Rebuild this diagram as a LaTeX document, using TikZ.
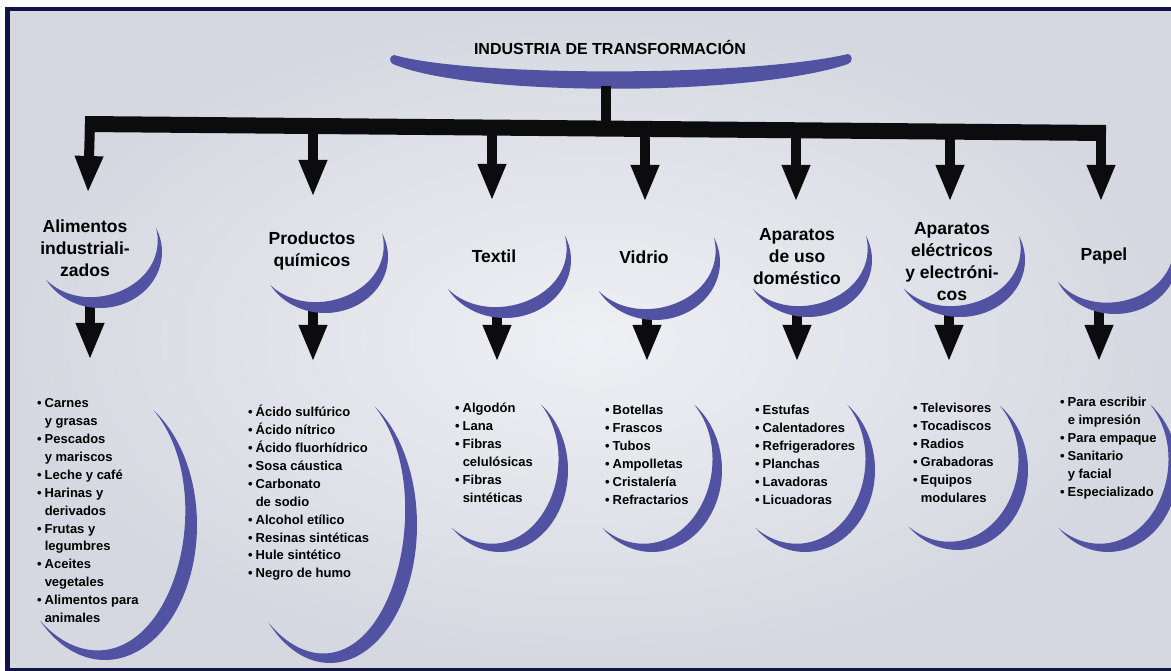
\documentclass[tikz,border=0pt]{standalone}
\usepackage{fontspec}
\setmainfont{Liberation Sans}
\usetikzlibrary{arrows.meta}
\definecolor{moonc}{RGB}{82,82,162}
\definecolor{framec}{RGB}{18,20,70}
\definecolor{bgin}{RGB}{239,240,244}
\definecolor{bgout}{RGB}{214,216,225}
\definecolor{inkc}{RGB}{12,12,14}
\newcommand\crescentshape[7]{% cx cy rx ry a1 a2 T
  \fill[moonc] plot[domain=#5:#6,samples=60,smooth,variable=\t] ({#1+#3*cos(\t)},{#2+#4*sin(\t)})
   -- plot[domain=#6:#5,samples=60,smooth,variable=\t]
   ({#1+(#3-#7*sin(((\t-(#5))/((#6)-(#5)))*180))*cos(\t)},{#2+(#4-#7*sin(((\t-(#5))/((#6)-(#5)))*180))*sin(\t)}) -- cycle;}
\newcommand\itembul{\textbullet\hspace{3pt}}
\newcommand\itemind{\phantom{\textbullet\hspace{3pt}}}
\begin{document}
\begin{tikzpicture}[x=1pt,y=-1pt,
  titlelabel/.style={inner sep=0pt,font=\fontsize{16}{19}\selectfont\bfseries},
  catlabel/.style={align=center,inner sep=0pt,font=\fontsize{17.5}{22}\selectfont\bfseries},
  listlabel/.style={align=left,inner sep=0pt,anchor=north west,font=\fontsize{13}{17.9}\selectfont\bfseries},
  barline/.style={draw=inkc,line width=16pt},
  trunkline/.style={draw=inkc,line width=10pt},
  bigarrow/.style={draw=inkc,fill=inkc,line width=10pt,-{Triangle[width=26pt,length=37pt]}}]
\useasboundingbox (0,0) rectangle (1171,671);
% frame and background
\fill[white] (0,0) rectangle (1171,671);
\fill[framec] (5,7) rectangle (1171,671);
\shade[inner color=bgin,outer color=bgout] (10,12) rectangle (1171,667);

% title
\node[titlelabel] (title) at (610,47) {INDUSTRIA DE TRANSFORMACIÓN};
\fill[moonc] (393,64) .. controls (470,97) and (750,97) .. (848,64)
  .. controls (853,62) and (853,55) .. (848,54)
  .. controls (750,77) and (470,77) .. (394,55)
  .. controls (389,56) and (389,62) .. (393,64) -- cycle;

% bar and trunk
\coordinate (barL) at (85,124);
\coordinate (barR) at (1106,133);
\coordinate (trunkTop) at (606,86);
\coordinate (trunkBot) at (606,128.6);
\draw[barline] (barL) -- (barR);
\draw[trunkline] (trunkTop) -- (trunkBot);

% top arrows
\coordinate (b1) at (90,124);    \coordinate (t1) at (88,193);
\coordinate (b2) at (313,126);   \coordinate (t2) at (313,197);
\coordinate (b3) at (492,127.6); \coordinate (t3) at (492,201);
\coordinate (b4) at (645,128.9); \coordinate (t4) at (645,202);
\coordinate (b5) at (796,130.3); \coordinate (t5) at (796,202);
\coordinate (b6) at (950,131.6); \coordinate (t6) at (950,202);
\coordinate (b7) at (1101,133);  \coordinate (t7) at (1101,202);
\foreach \i in {1,...,7} { \draw[bigarrow] (b\i) -- (t\i); }

% lower arrows
\coordinate (u1) at (90,302);   \coordinate (v1) at (90,360);
\coordinate (u2) at (313,307);  \coordinate (v2) at (313,362);
\coordinate (u3) at (497,312);  \coordinate (v3) at (497,362);
\coordinate (u4) at (647,314);  \coordinate (v4) at (647,362);
\coordinate (u5) at (797,311);  \coordinate (v5) at (797,362);
\coordinate (u6) at (949,311);  \coordinate (v6) at (949,362);
\coordinate (u7) at (1099,308); \coordinate (v7) at (1099,362);
\foreach \i in {1,...,7} { \draw[bigarrow] (u\i) -- (v\i); }

% category crescents
\crescentshape{100}{252}{62}{56}{-25}{150}{13}
\crescentshape{325}{257}{63}{56}{-25}{150}{13}
\crescentshape{505}{260}{66}{58}{-25}{150}{13}
\crescentshape{655}{262}{65}{58}{-25}{150}{13}
\crescentshape{808}{260}{64}{57}{-25}{150}{13}
\crescentshape{960}{260}{65}{57}{-25}{150}{13}
\crescentshape{1115}{258}{63}{56}{-25}{155}{13}

% list crescents
\crescentshape{105}{525}{92}{135}{-58}{135}{15}
\crescentshape{330}{525}{87}{138}{-59}{135}{15}
\crescentshape{500}{470}{68}{82}{-53}{135}{13}
\crescentshape{652}{470}{70}{82}{-53}{135}{13}
\crescentshape{805}{470}{70}{82}{-53}{135}{13}
\crescentshape{958}{470}{70}{80}{-53}{135}{13}
\crescentshape{1108}{470}{70}{82}{-53}{135}{13}

% category labels
\node[catlabel] (cat1) at (85,248) {Alimentos\\industriali-\\zados};
\node[catlabel] (cat2) at (312,251) {Productos\\químicos};
\node[catlabel] (cat3) at (494,256) {Textil};
\node[catlabel] (cat4) at (644,257) {Vidrio};
\node[catlabel] (cat5) at (797,257) {Aparatos\\de uso\\doméstico};
\node[catlabel] (cat6) at (952,262) {Aparatos\\eléctricos\\y electróni-\\cos};
\node[catlabel] (cat7) at (1104,256) {Papel};

% lists
\node[listlabel] (list1) at (37,395) {\strut\itembul Carnes\\\itemind y grasas\\\itembul Pescados\\\itemind y mariscos\\\itembul Leche y café\\\itembul Harinas y\\\itemind derivados\\\itembul Frutas y\\\itemind legumbres\\\itembul Aceites\\\itemind vegetales\\\itembul Alimentos para\\\itemind animales};
\node[listlabel] (list2) at (248,404) {\strut\itembul Ácido sulfúrico\\\itembul Ácido nítrico\\\itembul Ácido fluorhídrico\\\itembul Sosa cáustica\\\itembul Carbonato\\\itemind de sodio\\\itembul Alcohol etílico\\\itembul Resinas sintéticas\\\itembul Hule sintético\\\itembul Negro de humo};
\node[listlabel] (list3) at (455,400) {\strut\itembul Algodón\\\itembul Lana\\\itembul Fibras\\\itemind celulósicas\\\itembul Fibras\\\itemind sintéticas};
\node[listlabel] (list4) at (605,402) {\strut\itembul Botellas\\\itembul Frascos\\\itembul Tubos\\\itembul Ampolletas\\\itembul Cristalería\\\itembul Refractarios};
\node[listlabel] (list5) at (755,402) {\strut\itembul Estufas\\\itembul Calentadores\\\itembul Refrigeradores\\\itembul Planchas\\\itembul Lavadoras\\\itembul Licuadoras};
\node[listlabel] (list6) at (913,400) {\strut\itembul Televisores\\\itembul Tocadiscos\\\itembul Radios\\\itembul Grabadoras\\\itembul Equipos\\\itemind modulares};
\node[listlabel] (list7) at (1060,394) {\strut\itembul Para escribir\\\itemind e impresión\\\itembul Para empaque\\\itembul Sanitario\\\itemind y facial\\\itembul Especializado};
\end{tikzpicture}
\end{document}
